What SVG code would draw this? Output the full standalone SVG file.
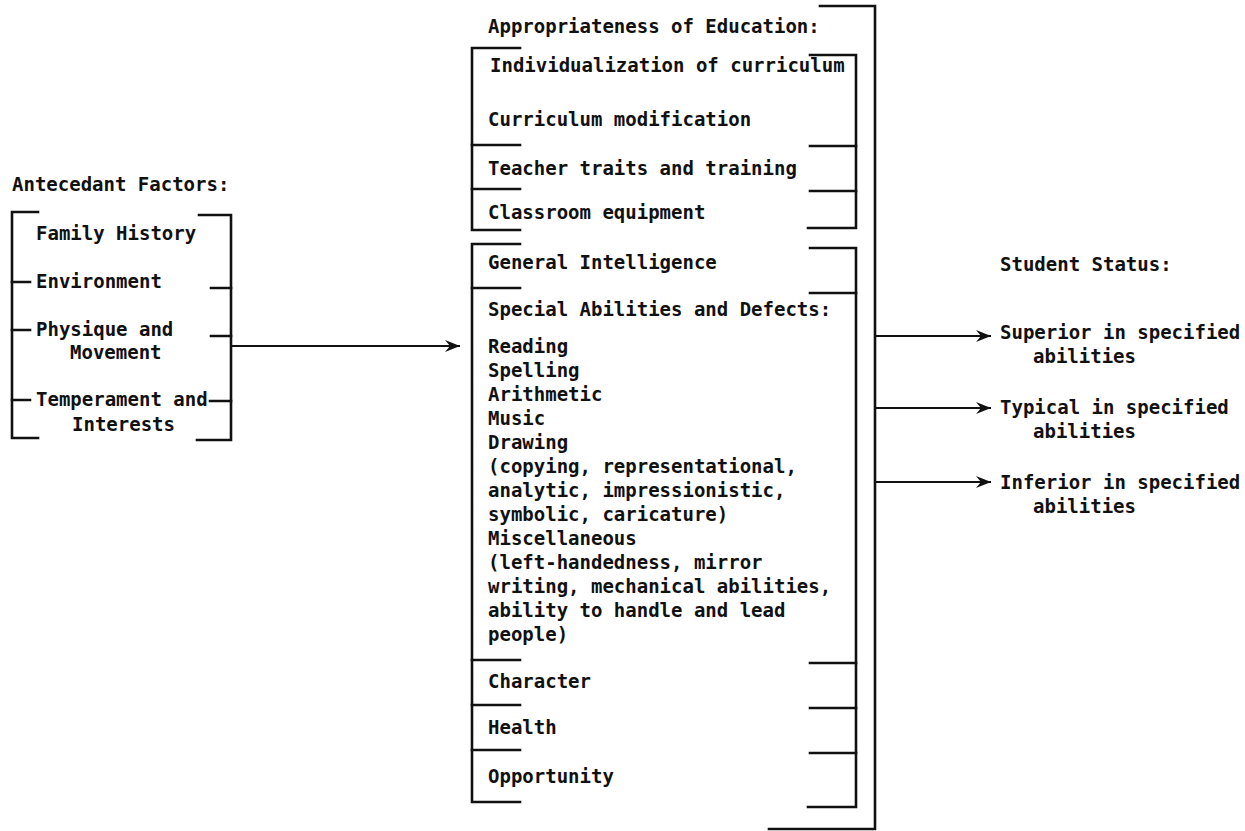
<svg xmlns="http://www.w3.org/2000/svg" width="1245" height="831" viewBox="0 0 1245 831">
<style>
text{font-family:"DejaVu Sans Mono","Liberation Mono",monospace;font-size:19px;font-weight:bold;fill:#111}
.br{fill:none;stroke:#111;stroke-width:2.6;stroke-linecap:square}
.cn{fill:none;stroke:#111;stroke-width:2}
</style>
<defs>
<marker id="ah" markerWidth="16" markerHeight="12" refX="15" refY="6" orient="auto" markerUnits="userSpaceOnUse">
<path d="M0,0 L15,6 L0,12 L5,6 z" fill="#111"/>
</marker>
</defs>
<rect width="1245" height="831" fill="#fff"/>

<g id="antecedant">
<text x="12" y="191">Antecedant Factors:</text>
<path class="br" d="M38,212 H12 V438 H38"/>
<path class="br" d="M199,215 H231 V440 H197"/>
<path class="br" d="M12,282 H30 M12,330 H30 M12,400 H30"/>
<path class="br" d="M211,288 H231 M211,336 H231 M210,401 H231"/>
<text x="36" y="240">Family History</text>
<text x="36" y="288">Environment</text>
<text x="36" y="336">Physique and</text>
<text x="70" y="359">Movement</text>
<text x="36" y="406">Temperament and</text>
<text x="72" y="431">Interests</text>
</g>

<g id="education">
<path class="br" d="M820,6 H875 V829 H769"/>
<text x="488" y="33">Appropriateness of Education:</text>
<path class="br" d="M520,48 H472 V230 H520"/>
<path class="br" d="M810,55 H856 V228 H808"/>
<path class="br" d="M472,145 H520 M472,189 H520"/>
<path class="br" d="M810,146 H856 M810,191 H856"/>
<text x="490" y="72">Individualization of curriculum</text>
<text x="488" y="126">Curriculum modification</text>
<text x="488" y="175">Teacher traits and training</text>
<text x="488" y="219">Classroom equipment</text>
</g>

<g id="abilities">
<path class="br" d="M520,244 H472 V802 H520"/>
<path class="br" d="M810,248 H856 V807 H808"/>
<path class="br" d="M472,288 H520 M472,660 H520 M472,705 H520 M472,750 H520"/>
<path class="br" d="M810,293 H856 M810,663 H856 M810,708 H856 M810,753 H856"/>
<text x="488" y="269">General Intelligence</text>
<text x="488" y="316">Special Abilities and Defects:</text>
<text x="488" y="353">Reading</text>
<text x="488" y="377">Spelling</text>
<text x="488" y="401">Arithmetic</text>
<text x="488" y="425">Music</text>
<text x="488" y="449">Drawing</text>
<text x="488" y="473">(copying, representational,</text>
<text x="488" y="497">analytic, impressionistic,</text>
<text x="488" y="521">symbolic, caricature)</text>
<text x="488" y="545">Miscellaneous</text>
<text x="488" y="569">(left-handedness, mirror</text>
<text x="488" y="593">writing, mechanical abilities,</text>
<text x="488" y="617">ability to handle and lead</text>
<text x="488" y="641">people)</text>
<text x="488" y="688">Character</text>
<text x="488" y="734">Health</text>
<text x="488" y="783">Opportunity</text>
</g>

<g id="status">
<text x="1000" y="271">Student Status:</text>
<text x="1000" y="339">Superior in specified</text>
<text x="1033" y="363">abilities</text>
<text x="1000" y="414">Typical in specified</text>
<text x="1033" y="438">abilities</text>
<text x="1000" y="489">Inferior in specified</text>
<text x="1033" y="513">abilities</text>
</g>

<g id="connectors">
<line class="cn" x1="231" y1="346" x2="460" y2="346" marker-end="url(#ah)"/>
<line class="cn" x1="876" y1="336" x2="991" y2="336" marker-end="url(#ah)"/>
<line class="cn" x1="876" y1="408" x2="991" y2="408" marker-end="url(#ah)"/>
<line class="cn" x1="876" y1="482" x2="991" y2="482" marker-end="url(#ah)"/>
</g>
</svg>
